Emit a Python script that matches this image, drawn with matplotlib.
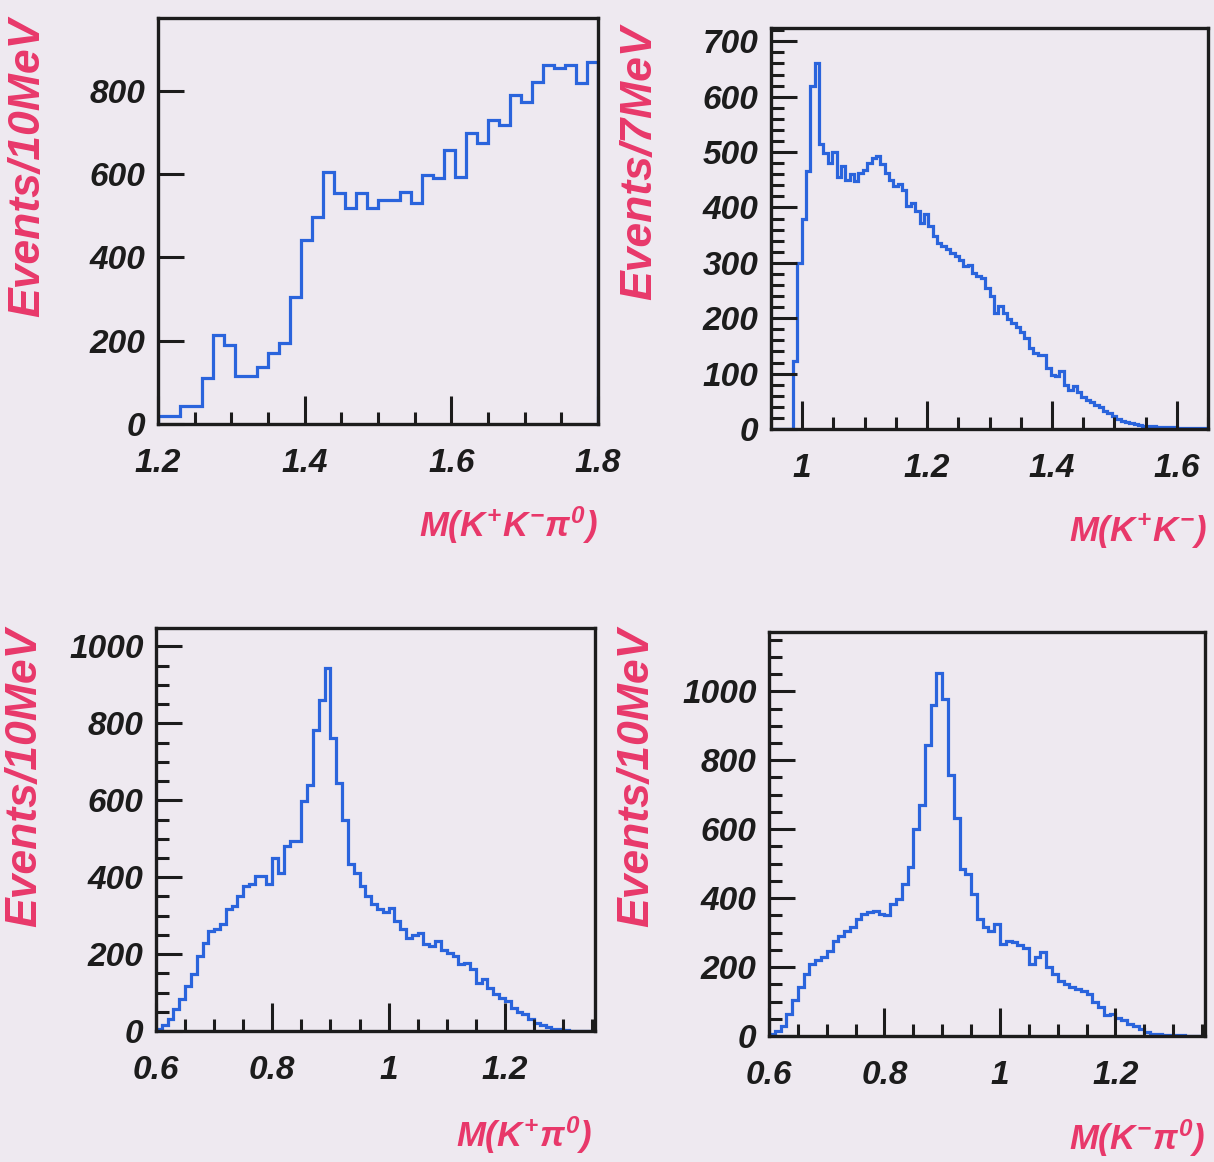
import numpy as np
import matplotlib
matplotlib.use("Agg")
import matplotlib.pyplot as plt
from matplotlib.font_manager import FontProperties
from matplotlib.ticker import MultipleLocator, FixedLocator, FixedFormatter

# ---- histogram contents ----
# M(K+K-pi0): 40 bins of 15 MeV from 1.2 to 1.8
mkkpi_lo, mkkpi_w = 1.2, 0.015
mkkpi = [20, 20, 43, 43, 110, 214, 190, 115, 115, 138,
         170, 194, 306, 442, 498, 606, 554, 518, 554, 518,
         539, 539, 558, 530, 598, 590, 658, 594, 698, 674,
         730, 718, 790, 774, 822, 862, 854, 862, 818, 870]

# M(K+K-): 100 bins of 7 MeV from 0.95 to 1.65
mkk_lo, mkk_w = 0.95, 0.007
mkk = [0, 0, 0, 0, 0, 122, 300, 380, 465, 620,
       660, 515, 498, 480, 500, 455, 474, 450, 460, 447,
       462, 468, 480, 489, 492, 478, 462, 450, 438, 442,
       432, 402, 408, 393, 372, 388, 366, 348, 336, 330,
       325, 318, 312, 306, 294, 296, 282, 276, 273, 255,
       240, 210, 222, 210, 198, 192, 184, 176, 165, 146,
       137, 134, 134, 110, 98, 95, 105, 80, 71, 77,
       66, 58, 52, 48, 44, 40, 32, 29, 24, 18,
       15, 12, 10, 9, 7, 6, 5, 5, 4, 4,
       3, 3, 3, 2, 2, 2, 1, 1, 1, 1]

# M(K+pi0): 75 bins of 10 MeV from 0.6 to 1.35
mkppi_lo, mkppi_w = 0.6, 0.01
mkppi = [5, 15, 30, 56, 82, 117, 147, 194, 230, 259,
         265, 277, 316, 325, 350, 376, 381, 402, 402, 381,
         450, 411, 480, 493, 493, 597, 640, 783, 860, 945,
         762, 645, 550, 433, 411, 376, 350, 329, 316, 310,
         320, 285, 265, 242, 250, 255, 225, 222, 233, 210,
         203, 195, 173, 176, 160, 125, 134, 112, 95, 85,
         78, 60, 50, 43, 32, 22, 15, 10, 6, 4,
         2, 1, 1, 0, 0]

# M(K-pi0): 75 bins of 10 MeV from 0.6 to 1.35
kmpi_lo, kmpi_w = 0.6, 0.01
mkmpi = [5, 15, 30, 64, 103, 142, 180, 210, 220, 229,
         248, 277, 290, 306, 316, 340, 355, 360, 364, 355,
         350, 384, 398, 442, 490, 601, 669, 843, 960, 1052,
         979, 756, 631, 485, 471, 413, 340, 316, 306, 326,
         268, 277, 272, 263, 255, 210, 229, 243, 200, 180,
         161, 150, 142, 137, 130, 123, 98, 84, 60, 64,
         52, 45, 35, 28, 21, 11, 6, 5, 4, 3,
         2, 2, 1, 1, 0]

xlabels = [r"$M(K^{+}K^{-}\pi^{0})$", r"$M(K^{+}K^{-})$",
           r"$M(K^{+}\pi^{0})$", r"$M(K^{-}\pi^{0})$"]
ylabels = ["Events/10MeV", "Events/7MeV", "Events/10MeV", "Events/10MeV"]

x_major = [[1.2, 1.4, 1.6, 1.8], [1.0, 1.2, 1.4, 1.6],
           [0.6, 0.8, 1.0, 1.2], [0.6, 0.8, 1.0, 1.2]]
x_ticklabels = [["1.2", "1.4", "1.6", "1.8"], ["1", "1.2", "1.4", "1.6"],
                ["0.6", "0.8", "1", "1.2"], ["0.6", "0.8", "1", "1.2"]]

# ---- style ----
W, H = 1214, 1162
BG = "#eee9f0"
BLUE = "#2a64dc"
RED = "#e8386a"
INK = "#1c1c1c"

plt.rcParams["mathtext.fontset"] = "custom"
plt.rcParams["mathtext.rm"] = "Liberation Sans:bold:italic"
plt.rcParams["mathtext.it"] = "Liberation Sans:bold:italic"
plt.rcParams["mathtext.bf"] = "Liberation Sans:bold:italic"
plt.rcParams["mathtext.sf"] = "Liberation Sans:bold:italic"
plt.rcParams["font.family"] = ["Liberation Sans", "DejaVu Sans"]

fig = plt.figure(figsize=(W / 100, H / 100), dpi=100, facecolor=BG)


def add_panel(box):
    l, t, r, b = box
    return fig.add_axes([l / W, 1 - b / H, (r - l) / W, (b - t) / H])


panels = [
    dict(box=(158, 18, 598, 424), data=mkkpi, lo=mkkpi_lo, w=mkkpi_w,
         xlim=(1.2, 1.8), ylim=(0, 975), ymaj=200, ymin=None,
         ylab_x=28, ylab_top=18, xlab=(598, 525)),
    dict(box=(771, 28, 1208, 429), data=mkk, lo=mkk_lo, w=mkk_w,
         xlim=(0.95, 1.65), ylim=(0, 724), ymaj=100, ymin=20,
         ylab_x=640, ylab_top=25, xlab=(1207, 530)),
    dict(box=(156, 628, 595, 1031), data=mkppi, lo=mkppi_lo, w=mkppi_w,
         xlim=(0.6, 1.355), ylim=(0, 1048), ymaj=200, ymin=50,
         ylab_x=25, ylab_top=628, xlab=(592, 1135)),
    dict(box=(769, 632, 1205, 1036), data=mkmpi, lo=kmpi_lo, w=kmpi_w,
         xlim=(0.6, 1.355), ylim=(0, 1172), ymaj=200, ymin=50,
         ylab_x=637, ylab_top=628, xlab=(1205, 1138)),
]

tick_font = dict(family="Liberation Sans", weight="bold", style="italic", size=24)

for i, p in enumerate(panels):
    ax = add_panel(p["box"])
    ax.set_facecolor(BG)
    vals = np.asarray(p["data"], dtype=float)
    edges = p["lo"] + p["w"] * np.arange(len(vals) + 1)
    ax.stairs(vals, edges, baseline=0, color=BLUE, lw=2.3)
    ax.set_xlim(*p["xlim"])
    ax.set_ylim(*p["ylim"])

    for s in ax.spines.values():
        s.set_linewidth(2.4)
        s.set_color(INK)

    ax.xaxis.set_major_locator(FixedLocator(x_major[i]))
    ax.xaxis.set_major_formatter(FixedFormatter(x_ticklabels[i]))
    ax.xaxis.set_minor_locator(MultipleLocator(0.05))
    ax.yaxis.set_major_locator(MultipleLocator(p["ymaj"]))
    if p["ymin"]:
        ax.yaxis.set_minor_locator(MultipleLocator(p["ymin"]))

    ax.tick_params(axis="both", which="both", direction="in",
                   top=False, right=False, colors=INK, width=2.2)
    ax.tick_params(axis="x", which="major", length=20, pad=17)
    ax.tick_params(axis="x", which="minor", length=9)
    ax.tick_params(axis="y", which="major", length=19, pad=9)
    ax.tick_params(axis="y", which="minor", length=9)
    for lab in ax.get_xticklabels() + ax.get_yticklabels():
        lab.set_fontproperties(FontProperties(**tick_font))
        lab.set_color(INK)

    fig.text(p["ylab_x"] / W, 1 - p["ylab_top"] / H, ylabels[i],
             rotation=90, ha="center", va="top", color=RED,
             family="Liberation Sans", weight="bold", style="italic", size=32)
    fig.text(p["xlab"][0] / W, 1 - p["xlab"][1] / H, xlabels[i],
             ha="right", va="center", color=RED, size=25)

fig.savefig("out.png", dpi=100, facecolor=BG)
